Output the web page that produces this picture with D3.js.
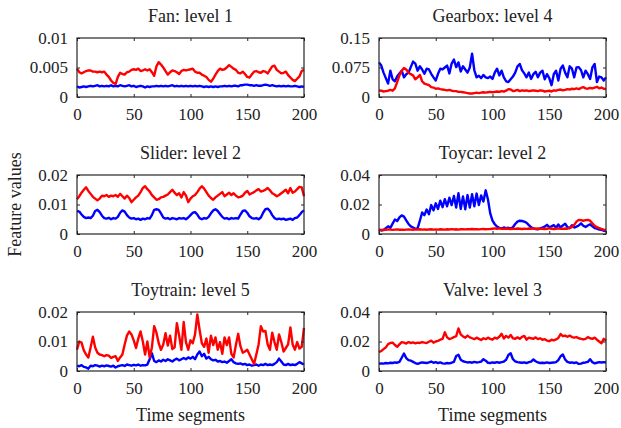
<!DOCTYPE html>
<html>
<head>
<meta charset="utf-8">
<script src="https://cdn.jsdelivr.net/npm/d3@7/dist/d3.min.js"></script>
<style>
  html, body { margin: 0; padding: 0; background: #fff; }
  svg { display: block; }
  text { font-family: "Liberation Serif", "Times New Roman", serif; fill: #222; }
</style>
</head>
<body>
<svg id="chart" width="621" height="428"></svg>
<script>
// ---- DATA (values sampled every 2 time segments, x = 0..200) ----
const segments = d3.range(0, 201, 2);
const xTicks = [0, 50, 100, 150, 200];

const titles = ["Fan: level 1", "Gearbox: level 4", "Slider: level 2", "Toycar: level 2", "Toytrain: level 5", "Valve: level 3"];
const yMaxes = [0.01, 0.15, 0.02, 0.04, 0.02, 0.04];
const yTickValues = [[0, 0.005, 0.01], [0, 0.075, 0.15], [0, 0.01, 0.02], [0, 0.02, 0.04], [0, 0.01, 0.02], [0, 0.02, 0.04]];
const yTickLabels = [["0", "0.005", "0.01"], ["0", "0.075", "0.15"], ["0", "0.01", "0.02"], ["0", "0.02", "0.04"], ["0", "0.01", "0.02"], ["0", "0.02", "0.04"]];

const fanRed = [0.0048,0.0042,0.0040,0.0042,0.0044,0.0045,0.0045,0.0043,0.0043,0.0042,0.0043,0.0042,0.0043,0.0038,0.0034,0.0028,0.0024,0.0022,0.0034,0.0041,0.0039,0.0038,0.0042,0.0043,0.0046,0.0047,0.0046,0.0048,0.0044,0.0045,0.0047,0.0045,0.0047,0.0042,0.0036,0.0052,0.0059,0.0055,0.0050,0.0044,0.0038,0.0042,0.0045,0.0044,0.0042,0.0039,0.0044,0.0046,0.0045,0.0046,0.0047,0.0048,0.0043,0.0041,0.0041,0.0038,0.0036,0.0034,0.0029,0.0026,0.0031,0.0038,0.0044,0.0048,0.0046,0.0047,0.0050,0.0054,0.0051,0.0048,0.0046,0.0041,0.0040,0.0043,0.0039,0.0034,0.0033,0.0038,0.0043,0.0044,0.0042,0.0041,0.0044,0.0043,0.0040,0.0046,0.0052,0.0053,0.0046,0.0043,0.0040,0.0041,0.0043,0.0037,0.0033,0.0029,0.0027,0.0031,0.0035,0.0044,0.0046];
const fanBlue = [0.0018,0.0016,0.0017,0.0018,0.0017,0.0018,0.0019,0.0018,0.0019,0.0020,0.0018,0.0019,0.0018,0.0019,0.0018,0.0020,0.0018,0.0019,0.0018,0.0020,0.0019,0.0018,0.0019,0.0020,0.0018,0.0019,0.0017,0.0018,0.0019,0.0018,0.0016,0.0018,0.0017,0.0018,0.0018,0.0019,0.0018,0.0019,0.0018,0.0019,0.0018,0.0019,0.0020,0.0018,0.0019,0.0018,0.0019,0.0018,0.0019,0.0018,0.0019,0.0018,0.0019,0.0018,0.0019,0.0018,0.0017,0.0018,0.0017,0.0018,0.0017,0.0018,0.0017,0.0018,0.0018,0.0019,0.0018,0.0019,0.0018,0.0019,0.0019,0.0018,0.0020,0.0020,0.0021,0.0021,0.0020,0.0020,0.0019,0.0020,0.0019,0.0019,0.0020,0.0021,0.0020,0.0019,0.0020,0.0019,0.0018,0.0019,0.0018,0.0019,0.0018,0.0019,0.0018,0.0018,0.0019,0.0018,0.0017,0.0018,0.0017];

const gearRed = [0.017,0.016,0.014,0.015,0.016,0.018,0.016,0.022,0.038,0.055,0.066,0.074,0.070,0.062,0.058,0.055,0.045,0.050,0.056,0.040,0.034,0.032,0.030,0.025,0.024,0.021,0.022,0.020,0.019,0.018,0.017,0.018,0.016,0.015,0.015,0.013,0.013,0.012,0.011,0.010,0.009,0.009,0.010,0.011,0.010,0.011,0.012,0.011,0.012,0.013,0.012,0.013,0.014,0.013,0.015,0.014,0.016,0.020,0.019,0.015,0.016,0.018,0.015,0.017,0.016,0.017,0.015,0.016,0.017,0.016,0.015,0.017,0.016,0.014,0.015,0.016,0.014,0.017,0.016,0.018,0.019,0.017,0.018,0.020,0.019,0.021,0.020,0.022,0.020,0.023,0.025,0.022,0.021,0.023,0.022,0.024,0.026,0.022,0.024,0.021,0.020];
const gearBlue = [0.088,0.080,0.062,0.048,0.034,0.067,0.045,0.040,0.052,0.060,0.067,0.050,0.058,0.062,0.076,0.090,0.085,0.067,0.078,0.070,0.059,0.072,0.070,0.059,0.050,0.042,0.059,0.072,0.070,0.075,0.080,0.060,0.085,0.095,0.076,0.088,0.065,0.078,0.070,0.062,0.075,0.110,0.068,0.050,0.054,0.048,0.056,0.050,0.048,0.052,0.046,0.062,0.072,0.055,0.067,0.050,0.040,0.038,0.045,0.052,0.062,0.078,0.084,0.068,0.060,0.050,0.062,0.046,0.058,0.064,0.050,0.062,0.067,0.045,0.058,0.048,0.030,0.058,0.067,0.042,0.072,0.080,0.062,0.050,0.078,0.072,0.050,0.075,0.076,0.068,0.050,0.067,0.058,0.046,0.075,0.084,0.038,0.052,0.050,0.042,0.050];

const sliderRed = [0.0118,0.0128,0.0140,0.0150,0.0158,0.0146,0.0136,0.0126,0.0120,0.0114,0.0120,0.0130,0.0128,0.0132,0.0126,0.0130,0.0128,0.0132,0.0126,0.0136,0.0128,0.0120,0.0130,0.0122,0.0108,0.0116,0.0124,0.0130,0.0142,0.0156,0.0162,0.0152,0.0144,0.0132,0.0124,0.0116,0.0118,0.0124,0.0126,0.0130,0.0134,0.0142,0.0150,0.0140,0.0132,0.0138,0.0124,0.0142,0.0130,0.0108,0.0120,0.0128,0.0132,0.0142,0.0154,0.0162,0.0154,0.0142,0.0130,0.0122,0.0116,0.0124,0.0130,0.0136,0.0142,0.0128,0.0134,0.0140,0.0132,0.0138,0.0130,0.0124,0.0126,0.0130,0.0140,0.0146,0.0134,0.0138,0.0142,0.0148,0.0152,0.0144,0.0146,0.0150,0.0156,0.0148,0.0138,0.0134,0.0128,0.0132,0.0138,0.0144,0.0150,0.0138,0.0156,0.0140,0.0144,0.0152,0.0160,0.0158,0.0128];
const sliderBlue = [0.0078,0.0076,0.0066,0.0058,0.0054,0.0056,0.0054,0.0062,0.0078,0.0082,0.0074,0.0062,0.0054,0.0052,0.0055,0.0050,0.0054,0.0052,0.0058,0.0072,0.0080,0.0076,0.0064,0.0056,0.0052,0.0054,0.0050,0.0052,0.0048,0.0052,0.0050,0.0054,0.0052,0.0064,0.0082,0.0084,0.0082,0.0070,0.0056,0.0052,0.0054,0.0050,0.0054,0.0052,0.0050,0.0054,0.0052,0.0054,0.0050,0.0056,0.0064,0.0072,0.0074,0.0066,0.0054,0.0050,0.0054,0.0052,0.0058,0.0070,0.0080,0.0084,0.0078,0.0068,0.0058,0.0052,0.0054,0.0050,0.0054,0.0052,0.0054,0.0052,0.0066,0.0078,0.0080,0.0072,0.0060,0.0054,0.0052,0.0054,0.0050,0.0056,0.0072,0.0084,0.0086,0.0078,0.0064,0.0054,0.0050,0.0052,0.0050,0.0052,0.0048,0.0050,0.0052,0.0048,0.0054,0.0056,0.0064,0.0074,0.0080];

const toycarRed = [0.0030,0.0028,0.0030,0.0029,0.0031,0.0030,0.0028,0.0030,0.0031,0.0029,0.0030,0.0028,0.0030,0.0031,0.0030,0.0029,0.0031,0.0030,0.0032,0.0030,0.0031,0.0029,0.0031,0.0032,0.0030,0.0031,0.0030,0.0032,0.0031,0.0030,0.0032,0.0031,0.0033,0.0031,0.0032,0.0030,0.0032,0.0033,0.0031,0.0033,0.0032,0.0034,0.0032,0.0033,0.0031,0.0033,0.0034,0.0032,0.0033,0.0034,0.0036,0.0038,0.0036,0.0038,0.0036,0.0035,0.0037,0.0036,0.0034,0.0036,0.0035,0.0037,0.0036,0.0034,0.0036,0.0035,0.0037,0.0036,0.0038,0.0036,0.0037,0.0035,0.0036,0.0034,0.0036,0.0038,0.0036,0.0034,0.0036,0.0038,0.0036,0.0035,0.0037,0.0036,0.0040,0.0048,0.0062,0.0084,0.0096,0.0094,0.0090,0.0094,0.0096,0.0090,0.0072,0.0056,0.0046,0.0040,0.0034,0.0030,0.0028];
const toycarBlue = [0.0028,0.0024,0.0026,0.0040,0.0052,0.0042,0.0070,0.0098,0.0088,0.0112,0.0126,0.0118,0.0092,0.0068,0.0052,0.0044,0.0036,0.0038,0.0090,0.0146,0.0128,0.0166,0.0134,0.0196,0.0160,0.0208,0.0170,0.0226,0.0182,0.0236,0.0188,0.0246,0.0196,0.0258,0.0180,0.0276,0.0170,0.0254,0.0168,0.0264,0.0180,0.0270,0.0188,0.0274,0.0196,0.0262,0.0220,0.0296,0.0234,0.0140,0.0090,0.0066,0.0050,0.0042,0.0038,0.0044,0.0040,0.0042,0.0038,0.0046,0.0068,0.0084,0.0090,0.0088,0.0084,0.0076,0.0060,0.0046,0.0038,0.0034,0.0032,0.0038,0.0044,0.0050,0.0062,0.0046,0.0052,0.0060,0.0042,0.0064,0.0044,0.0058,0.0070,0.0046,0.0040,0.0060,0.0044,0.0050,0.0058,0.0072,0.0056,0.0048,0.0058,0.0066,0.0052,0.0040,0.0036,0.0030,0.0028,0.0022,0.0020];

const toytrainRed = [0.0072,0.0100,0.0096,0.0070,0.0056,0.0046,0.0080,0.0116,0.0080,0.0062,0.0056,0.0054,0.0050,0.0054,0.0052,0.0044,0.0048,0.0050,0.0034,0.0046,0.0056,0.0090,0.0120,0.0134,0.0124,0.0104,0.0078,0.0110,0.0134,0.0100,0.0056,0.0100,0.0046,0.0080,0.0152,0.0130,0.0094,0.0072,0.0090,0.0128,0.0086,0.0120,0.0074,0.0080,0.0162,0.0120,0.0072,0.0166,0.0098,0.0072,0.0104,0.0094,0.0124,0.0192,0.0140,0.0094,0.0082,0.0110,0.0062,0.0120,0.0088,0.0114,0.0072,0.0098,0.0058,0.0114,0.0088,0.0114,0.0058,0.0046,0.0088,0.0126,0.0084,0.0062,0.0066,0.0072,0.0056,0.0040,0.0024,0.0056,0.0090,0.0152,0.0134,0.0136,0.0090,0.0072,0.0130,0.0098,0.0072,0.0124,0.0098,0.0066,0.0078,0.0090,0.0148,0.0090,0.0072,0.0098,0.0076,0.0082,0.0146];
const toytrainBlue = [0.0018,0.0016,0.0020,0.0014,0.0012,0.0008,0.0018,0.0016,0.0020,0.0018,0.0015,0.0018,0.0016,0.0019,0.0017,0.0015,0.0018,0.0012,0.0016,0.0018,0.0020,0.0017,0.0022,0.0020,0.0018,0.0021,0.0019,0.0022,0.0018,0.0020,0.0019,0.0022,0.0040,0.0060,0.0034,0.0030,0.0036,0.0032,0.0038,0.0034,0.0040,0.0036,0.0032,0.0038,0.0042,0.0036,0.0040,0.0044,0.0040,0.0046,0.0042,0.0048,0.0040,0.0056,0.0066,0.0050,0.0058,0.0042,0.0048,0.0040,0.0036,0.0038,0.0032,0.0034,0.0030,0.0032,0.0028,0.0034,0.0040,0.0030,0.0026,0.0024,0.0026,0.0022,0.0024,0.0020,0.0022,0.0018,0.0020,0.0022,0.0018,0.0022,0.0020,0.0024,0.0020,0.0022,0.0020,0.0024,0.0030,0.0042,0.0032,0.0022,0.0020,0.0024,0.0020,0.0022,0.0020,0.0024,0.0030,0.0026,0.0022];

const valveRed = [0.0128,0.0136,0.0148,0.0160,0.0182,0.0190,0.0192,0.0176,0.0164,0.0180,0.0196,0.0192,0.0186,0.0196,0.0190,0.0194,0.0188,0.0192,0.0190,0.0196,0.0192,0.0190,0.0198,0.0206,0.0192,0.0200,0.0204,0.0212,0.0218,0.0262,0.0228,0.0216,0.0222,0.0230,0.0236,0.0288,0.0248,0.0234,0.0226,0.0240,0.0228,0.0222,0.0216,0.0226,0.0218,0.0210,0.0222,0.0216,0.0226,0.0218,0.0212,0.0226,0.0220,0.0232,0.0252,0.0220,0.0238,0.0226,0.0244,0.0222,0.0218,0.0228,0.0218,0.0232,0.0238,0.0212,0.0226,0.0222,0.0218,0.0228,0.0216,0.0222,0.0212,0.0216,0.0206,0.0202,0.0212,0.0208,0.0214,0.0224,0.0250,0.0236,0.0240,0.0232,0.0240,0.0230,0.0226,0.0230,0.0222,0.0218,0.0214,0.0218,0.0230,0.0222,0.0218,0.0226,0.0212,0.0200,0.0188,0.0218,0.0206];
const valveBlue = [0.0050,0.0052,0.0050,0.0054,0.0052,0.0056,0.0054,0.0058,0.0056,0.0062,0.0090,0.0118,0.0088,0.0074,0.0070,0.0062,0.0054,0.0048,0.0054,0.0058,0.0056,0.0054,0.0058,0.0064,0.0056,0.0060,0.0054,0.0058,0.0052,0.0050,0.0054,0.0052,0.0056,0.0062,0.0102,0.0110,0.0076,0.0066,0.0062,0.0058,0.0060,0.0056,0.0062,0.0058,0.0060,0.0064,0.0080,0.0070,0.0056,0.0054,0.0058,0.0056,0.0060,0.0056,0.0060,0.0064,0.0076,0.0108,0.0120,0.0080,0.0066,0.0060,0.0058,0.0056,0.0058,0.0054,0.0060,0.0064,0.0078,0.0066,0.0058,0.0054,0.0056,0.0054,0.0058,0.0054,0.0056,0.0058,0.0060,0.0074,0.0100,0.0112,0.0078,0.0062,0.0056,0.0058,0.0054,0.0058,0.0048,0.0050,0.0056,0.0058,0.0062,0.0080,0.0060,0.0052,0.0056,0.0060,0.0058,0.0060,0.0058];

const blueSeries = [fanBlue, gearBlue, sliderBlue, toycarBlue, toytrainBlue, valveBlue];
const redSeries = [fanRed, gearRed, sliderRed, toycarRed, toytrainRed, valveRed];

// ---- LAYOUT ----
const svg = d3.select("#chart");
const colLeft = [77, 379];
const rowTop = [38, 175, 312];
const pw = 227, ph = 59;
const axisColor = "#262626";

titles.forEach((title, i) => {
  const col = i % 2, row = Math.floor(i / 2);
  const g = svg.append("g").attr("transform", `translate(${colLeft[col]},${rowTop[row]})`);
  const x = d3.scaleLinear().domain([0, 200]).range([0, pw]);
  const y = d3.scaleLinear().domain([0, yMaxes[i]]).range([ph, 0]);

  const line = d3.line().x((d, j) => x(segments[j])).y(d => y(d));

  g.append("path").datum(blueSeries[i])
    .attr("d", line).attr("fill", "none").attr("stroke", "#0000ff")
    .attr("stroke-width", 2.4).attr("stroke-linejoin", "round");
  g.append("path").datum(redSeries[i])
    .attr("d", line).attr("fill", "none").attr("stroke", "#ff0000")
    .attr("stroke-width", 2.4).attr("stroke-linejoin", "round");

  const labels = yTickLabels[i];
  const bottom = g.append("g").attr("transform", `translate(0,${ph})`)
    .call(d3.axisBottom(x).tickValues(xTicks).tickSizeInner(-3).tickSizeOuter(0).tickPadding(11).tickFormat(d3.format("d")));
  const top = g.append("g")
    .call(d3.axisTop(x).tickValues(xTicks).tickSizeInner(-3).tickSizeOuter(0).tickFormat(""));
  const left = g.append("g")
    .call(d3.axisLeft(y).tickValues(yTickValues[i]).tickSizeInner(-3).tickSizeOuter(0).tickPadding(9)
      .tickFormat((d, k) => labels[k]));
  const right = g.append("g").attr("transform", `translate(${pw},0)`)
    .call(d3.axisRight(y).tickValues(yTickValues[i]).tickSizeInner(-3).tickSizeOuter(0).tickFormat(""));

  [bottom, top, left, right].forEach(a => {
    a.select(".domain").remove();
    a.selectAll("line").attr("stroke", axisColor);
    a.selectAll("text").attr("font-family", "Liberation Serif, serif").attr("font-size", 17).attr("fill", "#222");
  });

  g.append("rect").attr("x", 0).attr("y", 0).attr("width", pw).attr("height", ph)
    .attr("fill", "none").attr("stroke", axisColor).attr("stroke-width", 1.2);

  g.append("text").attr("x", pw / 2).attr("y", -16).attr("text-anchor", "middle")
    .attr("font-size", 18).text(title);
});

// axis labels
svg.append("text").attr("x", colLeft[0] + pw / 2).attr("y", 421).attr("text-anchor", "middle")
  .attr("font-size", 18).text("Time segments");
svg.append("text").attr("x", colLeft[1] + pw / 2).attr("y", 421).attr("text-anchor", "middle")
  .attr("font-size", 18).text("Time segments");
svg.append("text").attr("transform", `translate(21,${rowTop[1] + ph / 2}) rotate(-90)`)
  .attr("text-anchor", "middle").attr("font-size", 18).text("Feature values");
</script>
</body>
</html>
